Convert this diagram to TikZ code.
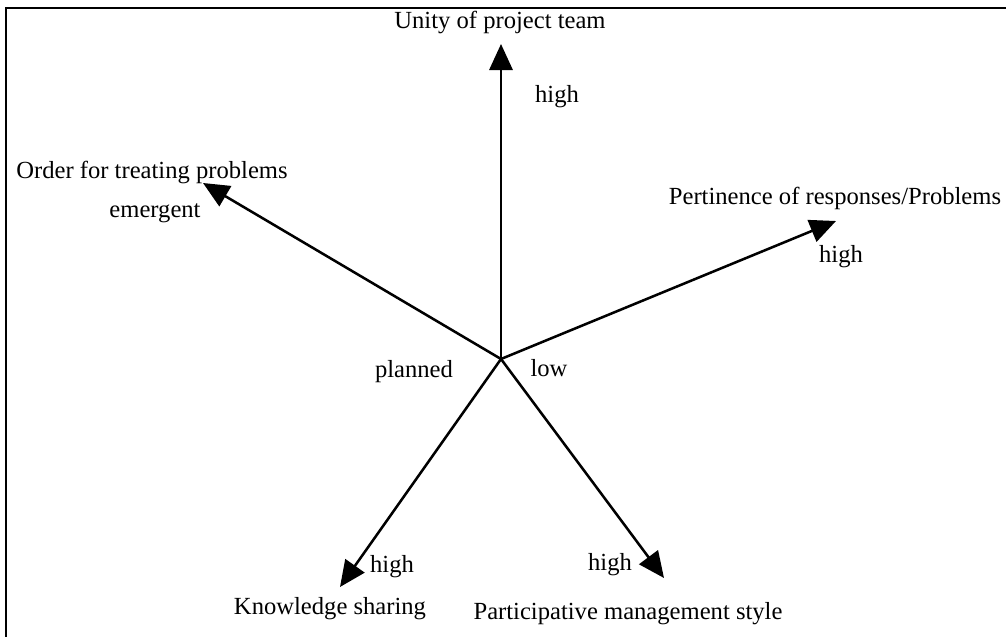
\documentclass[tikz,border=0pt]{standalone}
\usepackage{fontspec}
\setmainfont{Liberation Serif}
\usetikzlibrary{arrows.meta}
\tikzset{x=0.025cm, y=-0.025cm,
every node/.style={ % all labels in the same size
font=\fontsize{17.5}{20}\selectfont, inner sep=1pt},
axis/.style={ % the five axes
draw, line width=1.8pt,
-{Triangle[length=0.65cm,width=0.58cm]}}}

\begin{document}
\begin{tikzpicture}
\useasboundingbox (0,0) rectangle (1006,637);
\draw[line width=2pt] (6,8) rectangle (1020,650);
% centre and tips
\coordinate (o) at (501,359);
\coordinate (up) at (501,44);
\coordinate (ul) at (203,183);
\coordinate (ur) at (836,221);
\coordinate (ll) at (340,587);
\coordinate (lr) at (664,578);
% axis names
\node (unity) at (500,22) {Unity of project team};
\node (order) at (152,172) {Order for treating problems};
\node (pert) at (835,198) {Pertinence of responses/Problems};
\node (know) at (330,609) {Knowledge sharing};
\node (part) at (628,614) {Participative management style};
% ends
\node (hup) at (557,97) {high};
\node (emer) at (155,213) {emergent};
\node (hur) at (841,257) {high};
\node (hll) at (392,567) {high};
\node (hlr) at (610,565) {high};
\node (plan) at (414,372) {planned};
\node (low) at (549,368) {low};
% axes
\draw[axis] (o) -- (up);
\draw[axis] (o) -- (ul);
\draw[axis] (o) -- (ur);
\draw[axis] (o) -- (ll);
\draw[axis] (o) -- (lr);
\end{tikzpicture}
\end{document}
